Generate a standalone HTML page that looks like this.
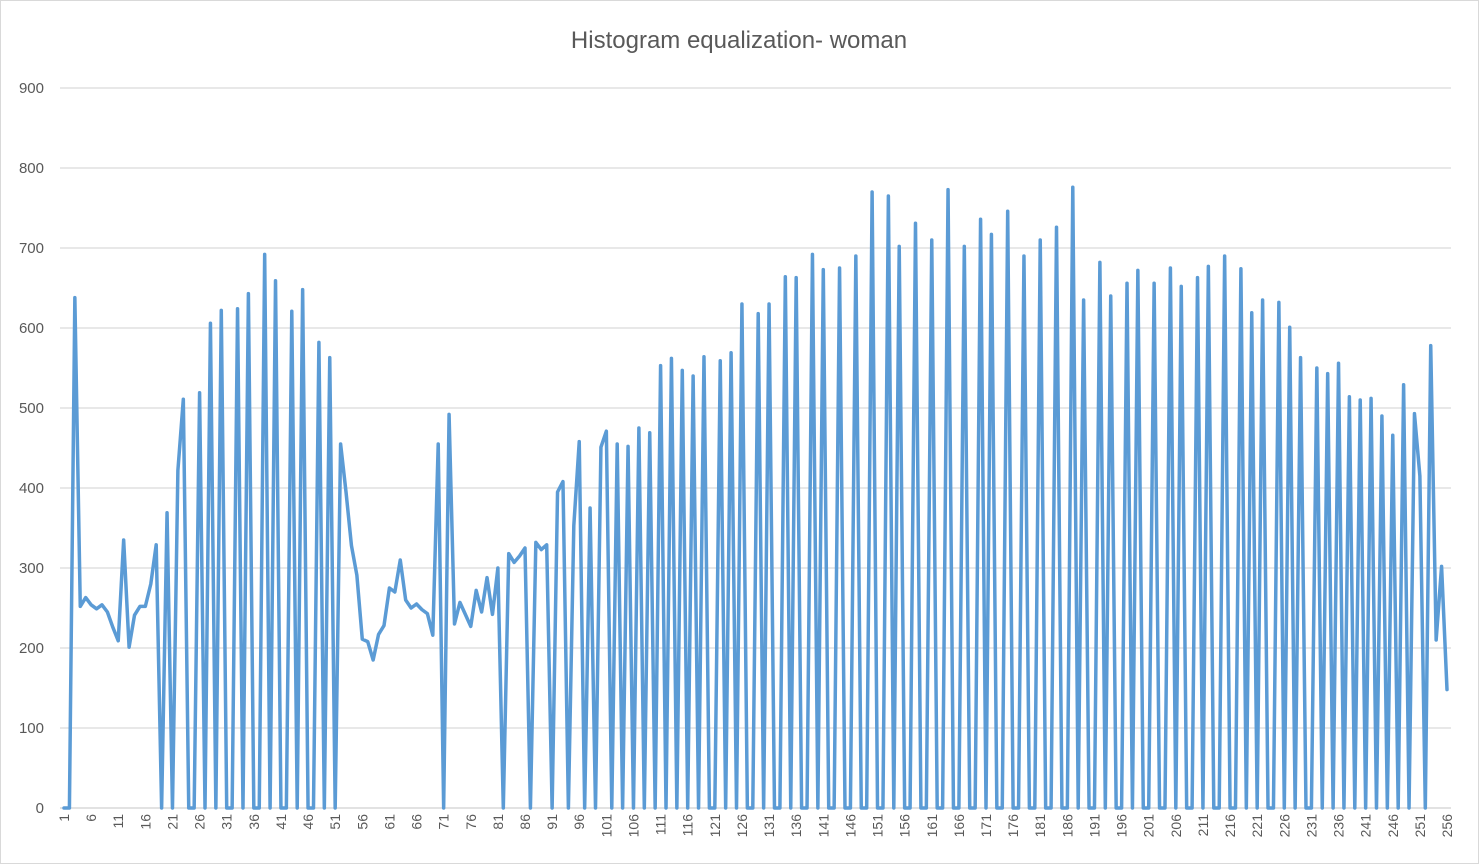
<!DOCTYPE html>
<html><head><meta charset="utf-8"><style>
html,body{margin:0;padding:0;background:#fff;}
svg{display:block;font-family:"Liberation Sans",sans-serif;}
</style></head><body>
<svg id="chart" width="1479" height="864" viewBox="0 0 1479 864" xmlns="http://www.w3.org/2000/svg">
<rect x="0.5" y="0.5" width="1478" height="863" fill="#fff" stroke="#d9d9d9"/>
<text x="739" y="48" text-anchor="middle" font-size="24" fill="#595959">Histogram equalization- woman</text>
<g id="grid"></g><g id="yt"></g><g id="xt"></g><g id="series"></g>
</svg>
<script>
const values = [
0,0,638,252,263,254,249,254,245,226,
209,335,201,241,252,252,280,329,0,369,
0,422,511,0,0,519,0,606,0,622,
0,0,624,0,643,0,0,692,0,659,
0,0,621,0,648,0,0,582,0,563,
0,455,395,328,291,211,208,185,217,228,
275,270,310,260,250,255,248,243,216,455,
0,492,230,257,242,227,272,245,288,242,
300,0,318,307,315,325,0,332,323,329,
0,395,408,0,353,458,0,375,0,451,
471,0,455,0,452,0,475,0,469,0,
553,0,562,0,547,0,540,0,564,0,
0,559,0,569,0,630,0,0,618,0,
630,0,0,664,0,663,0,0,692,0,
673,0,0,675,0,0,690,0,0,770,
0,0,765,0,702,0,0,731,0,0,
710,0,0,773,0,0,702,0,0,736,
0,717,0,0,746,0,0,690,0,0,
710,0,0,726,0,0,776,0,635,0,
0,682,0,640,0,0,656,0,672,0,
0,656,0,0,675,0,652,0,0,663,
0,677,0,0,690,0,0,674,0,619,
0,635,0,0,632,0,601,0,563,0,
0,550,0,543,0,556,0,514,0,510,
0,512,0,490,0,466,0,529,0,493,
415,0,578,210,302,148];
const categories = values.map((v,i)=>i+1);
const yTicks = [0,100,200,300,400,500,600,700,800,900];
const xTickLabels = [1,6,11,16,21,26,31,36,41,46,51,56,61,66,71,76,81,86,91,96,101,106,111,116,121,126,131,136,141,146,151,156,161,166,171,176,181,186,191,196,201,206,211,216,221,226,231,236,241,246,251,256];

const NS="http://www.w3.org/2000/svg";
const y0=808, yTop=88, yMax=900;
function yS(v){return y0-(v/yMax)*(y0-yTop);}
function xS(c){return 64+(c-1)*(1447-64)/255;}
const grid=document.getElementById('grid'), yt=document.getElementById('yt'), xt=document.getElementById('xt'), series=document.getElementById('series');
yTicks.forEach(t=>{
  const l=document.createElementNS(NS,'line');
  l.setAttribute('x1',60);l.setAttribute('x2',1451);
  l.setAttribute('y1',yS(t));l.setAttribute('y2',yS(t));
  l.setAttribute('stroke',t===0?'#d0d0d0':'#d9d9d9');l.setAttribute('stroke-width',1.3);
  
  
  grid.appendChild(l);
  const tx=document.createElementNS(NS,'text');
  tx.setAttribute('x',44);tx.setAttribute('y',yS(t)+5);
  tx.setAttribute('text-anchor','end');tx.setAttribute('font-size','15');tx.setAttribute('fill','#595959');
  tx.textContent=t;
  
  
  yt.appendChild(tx);
});
xTickLabels.forEach(c=>{
  const tx=document.createElementNS(NS,'text');
  const x=xS(c)+5, y=814;
  tx.setAttribute('transform','translate('+x+','+y+') rotate(-90)');
  tx.setAttribute('text-anchor','end');tx.setAttribute('font-size','14');tx.setAttribute('fill','#595959');
  tx.textContent=c;
  
  
  xt.appendChild(tx);
});
const p=document.createElementNS(NS,'polyline');
p.setAttribute('points',values.map((v,i)=>xS(categories[i]).toFixed(2)+','+yS(v).toFixed(2)).join(' '));
p.setAttribute('fill','none');p.setAttribute('stroke','#5B9BD5');p.setAttribute('stroke-width','3.5');
p.setAttribute('stroke-linejoin','round');p.setAttribute('stroke-linecap','round');


series.appendChild(p);
</script>
</body></html>
